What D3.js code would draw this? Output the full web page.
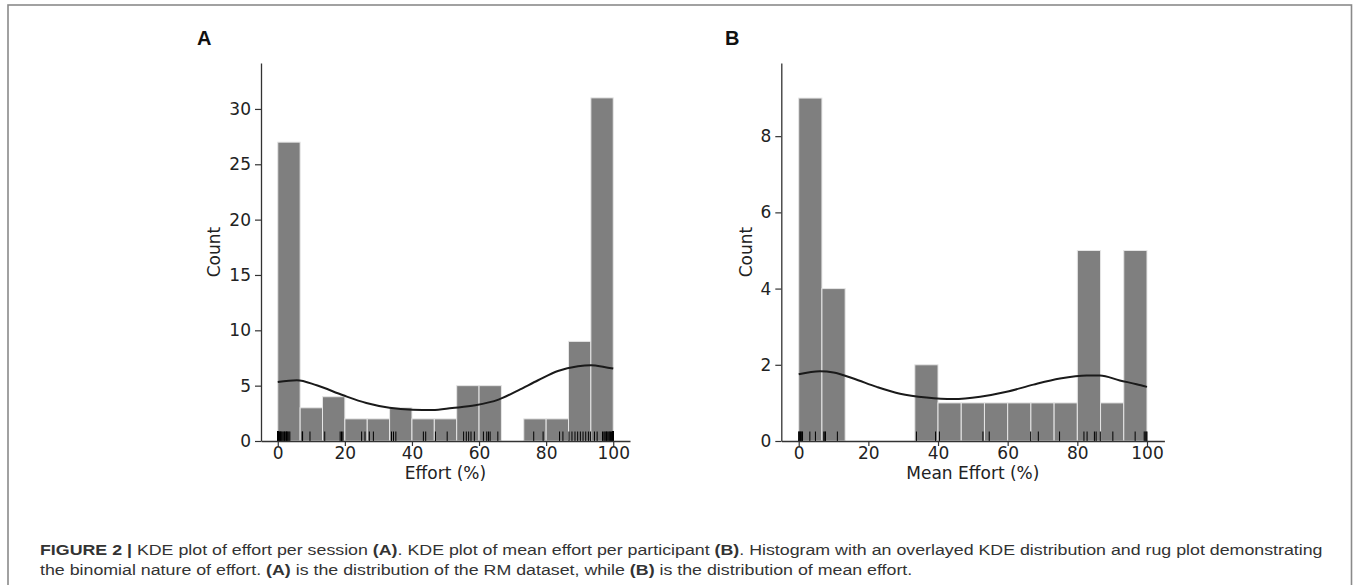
<!DOCTYPE html>
<html>
<head>
<meta charset="utf-8">
<script src="https://cdn.jsdelivr.net/npm/d3@7"></script>
<style>
  body { margin: 0; background: #fff; }
  svg { display: block; }
  .tick text { font-family: "DejaVu Sans", sans-serif; font-size: 17px; fill: #222; }
</style>
</head>
<body>
<div id="chart"></div>
<script>
// histogram bins (shared by both panels)
const binEdges = [0, 6.667, 13.333, 20, 26.667, 33.333, 40, 46.667, 53.333, 60, 66.667, 73.333, 80, 86.667, 93.333, 100];

// panel A: effort per session
const countsA = [27, 3, 4, 2, 2, 3, 2, 2, 5, 5, 0, 2, 2, 9, 31];
const rugA = [
  0, 0, 0, 0, 0, 0, 0, 0, 0, 0, 0.2, 0.3, 0.5, 0.7, 0.8, 1, 1.2, 1.5, 1.8, 2, 2.2, 2.5, 2.6, 2.8, 3, 3.3, 3.6,
  7.3, 7.4, 9.6,
  14, 18.6, 19, 19.4,
  25, 26, 27.3, 28.5,
  33.9, 34.5, 35.2,
  43.4, 44.1, 47, 50.5,
  55.4, 56.2, 56.9, 57.6, 58.6,
  61.3, 62.3, 62.8, 63.3, 65.6,
  76.3, 79.1, 84, 85,
  86.8, 87.7, 88.6, 89.4, 90.2, 91, 91.8, 92.6, 93.2,
  94.4, 95.2, 96.8, 97.2, 97.5, 97.8, 98, 98.2, 98.5, 98.8, 99, 99.2, 99.5, 99.7,
  100, 100, 100, 100, 100, 100, 100, 100, 100, 100, 100, 100, 100, 100, 100, 100, 100
];
const kdeAx = [0, 5.7, 11.6, 19.5, 26.4, 33.3, 40.2, 46.1, 52, 58.9, 65.8, 71.7, 77.6, 83.5, 89.5, 93.4, 97.3, 100];
const kdeAy = [5.34, 5.49, 5.03, 4.13, 3.44, 3.01, 2.83, 2.8, 2.98, 3.23, 3.74, 4.58, 5.49, 6.33, 6.75, 6.84, 6.69, 6.54];

// panel B: mean effort per participant
const countsB = [9, 4, 0, 0, 0, 2, 1, 1, 1, 1, 1, 1, 5, 1, 5];
const rugB = [0, 0.1, 0.3, 0.5, 0.7, 0.9, 1.1, 3.2, 4.8, 7.2, 7.5, 7.7, 11.1, 33.8, 39.3, 40.4, 52.9, 54.7,
  66.6, 68.8, 74.9, 81.9, 82.8, 84.9, 85.4, 86.6, 90.2, 96.6, 99.2, 99.5, 99.8, 100];
const kdeBx = [0, 6.1, 10, 15.7, 22.4, 29.1, 36.7, 44.4, 52.1, 59.7, 67.4, 75, 82.7, 86.5, 92.2, 97, 100];
const kdeBy = [1.75, 1.83, 1.8, 1.64, 1.42, 1.24, 1.14, 1.1, 1.16, 1.29, 1.48, 1.64, 1.72, 1.72, 1.59, 1.49, 1.42];

const xTicks = [0, 20, 40, 60, 80, 100];
const yTicksA = [0, 5, 10, 15, 20, 25, 30];
const yTicksB = [0, 2, 4, 6, 8];

const W = 1358, H = 585;

const svg = d3.select("#chart")
    .append("svg")
    .attr("width", W)
    .attr("height", H);

// figure frame (open at the bottom edge of the crop)
svg.append("rect")
    .attr("x", 8).attr("y", 5)
    .attr("width", 1343.5).attr("height", 620)
    .attr("fill", "none")
    .attr("stroke", "#8a8a8a")
    .attr("stroke-width", 1.6);

function drawPanel(p) {
    const x = d3.scaleLinear().domain([-5, 105]).range([p.left, p.right]);
    const y = d3.scaleLinear().domain([0, p.yMax]).range([p.bottom, p.top]);
    const g = svg.append("g");

    const bins = p.counts.map((c, i) => ({x0: binEdges[i], x1: binEdges[i + 1], c: c}))
        .filter(d => d.c > 0);

    g.selectAll(".bar")
        .data(bins)
        .join("rect")
        .attr("class", "bar")
        .attr("x", d => x(d.x0))
        .attr("width", d => x(d.x1) - x(d.x0))
        .attr("y", d => y(d.c))
        .attr("height", d => y(0) - y(d.c))
        .attr("fill", "#7f7f7f")
        .attr("stroke", "#e6e6e6")
        .attr("stroke-width", 1);

    // rug
    g.selectAll(".rug")
        .data(p.rug)
        .join("line")
        .attr("class", "rug")
        .attr("x1", d => x(d)).attr("x2", d => x(d))
        .attr("y1", y(0)).attr("y2", y(0) - 9.5)
        .attr("stroke", "#000")
        .attr("stroke-width", 1);

    // kde
    const line = d3.line()
        .x(d => x(d[0]))
        .y(d => y(d[1]))
        .curve(d3.curveMonotoneX);
    g.append("path")
        .datum(p.kdeX.map((v, i) => [v, p.kdeY[i]]))
        .attr("d", line)
        .attr("fill", "none")
        .attr("stroke", "#1a1a1a")
        .attr("stroke-width", 2);

    // axes
    const xAxis = d3.axisBottom(x).tickValues(xTicks).tickSize(5).tickPadding(1).tickSizeOuter(0);
    const yAxis = d3.axisLeft(y).tickValues(p.yTicks).tickSize(6).tickPadding(4).tickSizeOuter(0);

    const gx = g.append("g")
        .attr("transform", `translate(0,${p.bottom})`)
        .call(xAxis);
    const gy = g.append("g")
        .attr("transform", `translate(${p.left},0)`)
        .call(yAxis);
    [gx, gy].forEach(a => {
        a.select(".domain").attr("stroke", "#333").attr("stroke-width", 1.3);
        a.selectAll(".tick line").attr("stroke", "#333").attr("stroke-width", 1.2);
    });

    g.append("text")
        .attr("x", (p.left + p.right) / 2)
        .attr("y", p.bottom + 38)
        .attr("text-anchor", "middle")
        .style("font-family", "DejaVu Sans, sans-serif")
        .style("font-size", "17px")
        .attr("fill", "#222")
        .text(p.xLabel);

    g.append("text")
        .attr("transform", `translate(${p.yLabelX},${(p.top + p.bottom) / 2}) rotate(-90)`)
        .attr("text-anchor", "middle")
        .style("font-family", "DejaVu Sans, sans-serif")
        .style("font-size", "17px")
        .attr("fill", "#222")
        .text("Count");

    g.append("text")
        .attr("x", p.tagX).attr("y", 45)
        .style("font-family", "Liberation Sans, Arial, sans-serif")
        .style("font-size", "20px")
        .style("font-weight", "bold")
        .attr("fill", "#111")
        .text(p.tag);
}

drawPanel({
    left: 261, right: 630, top: 63, bottom: 441, yMax: 34.15,
    counts: countsA, rug: rugA, kdeX: kdeAx, kdeY: kdeAy, yTicks: yTicksA,
    xLabel: "Effort (%)", yLabelX: 220, tag: "A", tagX: 197
});

drawPanel({
    left: 781.3, right: 1164.4, top: 63, bottom: 441, yMax: 9.92,
    counts: countsB, rug: rugB, kdeX: kdeBx, kdeY: kdeBy, yTicks: yTicksB,
    xLabel: "Mean Effort (%)", yLabelX: 752, tag: "B", tagX: 725
});

// caption
const captionLines = [
    [["FIGURE 2 | ", true], ["KDE plot of effort per session ", false], ["(A)", true],
     [". KDE plot of mean effort per participant ", false], ["(B)", true],
     [". Histogram with an overlayed KDE distribution and rug plot demonstrating", false]],
    [["the binomial nature of effort. ", false], ["(A)", true], [" is the distribution of the RM dataset, while ", false],
     ["(B)", true], [" is the distribution of mean effort.", false]]
];

const capNodes = captionLines.map((parts, i) => {
    const t = svg.append("text")
        .attr("x", 0).attr("y", 0)
        .style("font-family", "Liberation Sans, Arial, sans-serif")
        .style("font-size", "14.5px")
        .attr("fill", "#333");
    parts.forEach(([s, b]) => {
        t.append("tspan").style("font-weight", b ? "bold" : "normal").text(s);
    });
    return t;
});
const sx = 1284 / capNodes[0].node().getComputedTextLength();
capNodes.forEach((t, i) => {
    t.attr("transform", `translate(40,${555 + i * 20}) scale(${sx},1)`);
});
</script>
</body>
</html>
